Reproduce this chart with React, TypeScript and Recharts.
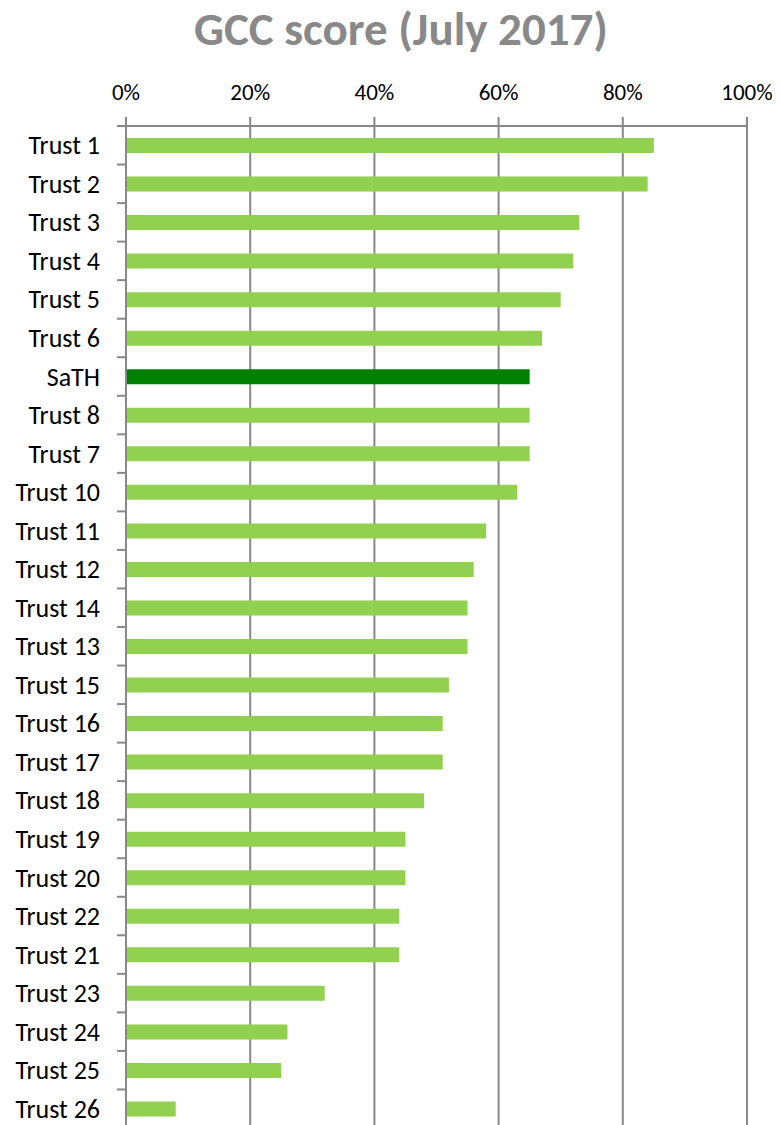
import { BarChart, Bar, XAxis, YAxis, CartesianGrid, Cell } from "recharts";

const trusts = [
  "Trust 1", "Trust 2", "Trust 3", "Trust 4", "Trust 5", "Trust 6", "SaTH",
  "Trust 8", "Trust 7", "Trust 10", "Trust 11", "Trust 12", "Trust 14",
  "Trust 13", "Trust 15", "Trust 16", "Trust 17", "Trust 18", "Trust 19",
  "Trust 20", "Trust 22", "Trust 21", "Trust 23", "Trust 24", "Trust 25",
  "Trust 26",
];
const scores = [
  0.85, 0.84, 0.73, 0.72, 0.70, 0.67, 0.65, 0.65, 0.65, 0.63, 0.58, 0.56,
  0.55, 0.55, 0.52, 0.51, 0.51, 0.48, 0.45, 0.45, 0.44, 0.44, 0.32, 0.26,
  0.25, 0.08,
];
const xTicks = [0, 0.2, 0.4, 0.6, 0.8, 1];
const highlight = "SaTH";

const data = trusts.map((name, i) => ({ name, score: scores[i] }));

const FONT = "Carlito, Calibri, Lato, sans-serif";
const W = 772;
const H = 1125;
const MARGIN = { top: 78, right: 33, bottom: 5, left: 0 };
const Y_AXIS_W = 118;
const BAND = (H - MARGIN.top - 40 - MARGIN.bottom) / trusts.length;

// category label + Excel-style tick at the band boundary
function TrustTick(props: any) {
  const { x, y, payload } = props;
  const axisX = Y_AXIS_W;
  const top = y - BAND / 2;
  return (
    <g>
      <line x1={axisX - 9} x2={axisX} y1={top} y2={top} stroke="#888" strokeWidth={2} />
      <text
        x={x}
        y={y}
        dy={9}
        textAnchor="end"
        fontSize={26}
        fontFamily={FONT}
        fill="#000"
      >
        {payload.value}
      </text>
    </g>
  );
}

export default function App() {
  return (
    <div style={{ position: "relative", width: W, height: H }}>
      <style>{"body{overflow:hidden}"}</style>
      <div
        style={{
          position: "absolute",
          left: 0,
          width: 786,
          top: -2,
          textAlign: "center",
          fontFamily: FONT,
          fontWeight: 700,
          fontSize: 47,
          lineHeight: 1,
          color: "#898989",
        }}
      >
        GCC score (July 2017)
      </div>
      <BarChart
        width={W}
        height={H}
        data={data}
        layout="vertical"
        margin={MARGIN}
        barCategoryGap={0}
        style={{ overflow: "visible" }}
      >
        <CartesianGrid horizontal={false} stroke="#888" strokeWidth={2} />
        <XAxis
          type="number"
          orientation="top"
          domain={[0, 1]}
          ticks={xTicks}
          tickFormatter={(v) => `${Math.round(v * 100)}%`}
          height={40}
          stroke="#888"
          strokeWidth={2}
          tickSize={9}
          tickMargin={17}
          tick={{ fontSize: 23, fontFamily: FONT, fill: "#000" }}
        />
        <YAxis
          type="category"
          dataKey="name"
          width={Y_AXIS_W}
          stroke="#888"
          strokeWidth={2}
          tickLine={false}
          tickSize={0}
          tickMargin={26}
          interval={0}
          tick={<TrustTick />}
        />
        <Bar dataKey="score" barSize={15} isAnimationActive={false}>
          {data.map((d) => (
            <Cell key={d.name} fill={d.name === highlight ? "#008000" : "#92D050"} />
          ))}
        </Bar>
      </BarChart>
    </div>
  );
}
